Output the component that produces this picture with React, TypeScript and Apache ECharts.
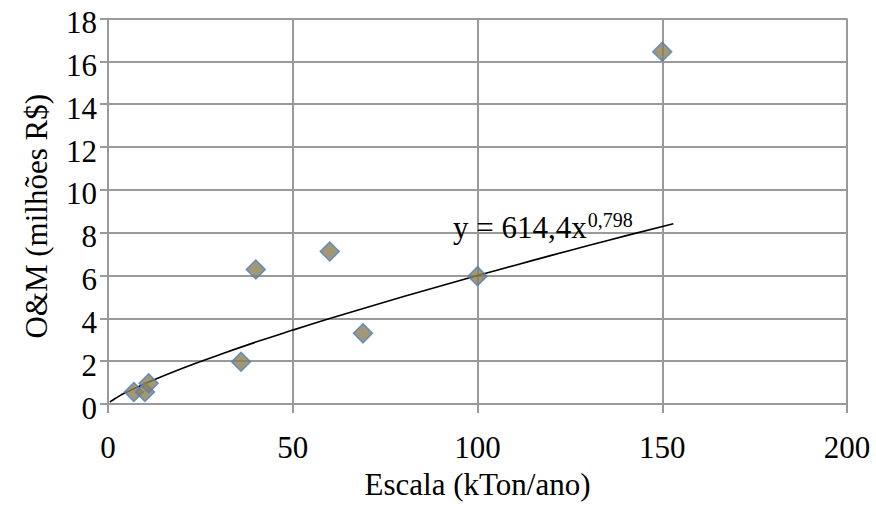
import React, { useEffect, useRef } from "react";
import * as echarts from "echarts";

const scaleX: number[] = [7, 10, 11, 36, 40, 60, 69, 100, 150];
const omY: number[] = [0.56, 0.56, 0.97, 1.97, 6.28, 7.12, 3.3, 5.97, 16.45];

const trendX: number[] = [0.5, 1, 3, 5, 10, 20, 30, 40, 50, 60, 70, 80, 90, 100, 110, 120, 130, 140, 153];
const trendY: number[] = [0.09, 0.15, 0.37, 0.55, 0.95, 1.66, 2.29, 2.89, 3.45, 3.99, 4.51, 5.02, 5.51, 6.0, 6.47, 6.94, 7.4, 7.85, 8.42];

const xTickValues: number[] = [0, 50, 100, 150, 200];
const yTickValues: number[] = [0, 2, 4, 6, 8, 10, 12, 14, 16, 18];

const xTitle = "Escala (kTon/ano)";
const yTitle = "O&M (milhões R$)";
const eqMain = "y = 614,4x";
const eqExp = "0,798";

const FONT = "Liberation Serif";
const FS = 31;

export default function App() {
  const ref = useRef<HTMLDivElement>(null);
  useEffect(() => {
    document.body.style.margin = "0";
    const chart = echarts.init(ref.current!, undefined, { renderer: "svg" });
    const gridColor = "#9a9a9a";
    const gridTop = 18.5;
    const gridBottom = 102;
    const gridLeft = 108;
    const gridRight = 29;
    chart.setOption({
      animation: false,
      backgroundColor: "#ffffff",
      grid: { left: gridLeft, right: gridRight, top: gridTop, bottom: gridBottom, containLabel: false },
      xAxis: {
        type: "value",
        min: xTickValues[0],
        max: xTickValues[xTickValues.length - 1],
        interval: xTickValues[1] - xTickValues[0],
        axisLine: { show: true, lineStyle: { color: gridColor, width: 2 } },
        axisTick: { show: true, length: 9, lineStyle: { color: gridColor, width: 2 } },
        axisLabel: { show: false },
        splitLine: { show: true, lineStyle: { color: gridColor, width: 2 } },
      },
      yAxis: {
        type: "value",
        min: yTickValues[0],
        max: yTickValues[yTickValues.length - 1],
        interval: yTickValues[1] - yTickValues[0],
        axisLine: { show: true, lineStyle: { color: gridColor, width: 2 } },
        axisTick: { show: true, length: 8, lineStyle: { color: gridColor, width: 2 } },
        axisLabel: { show: false },
        splitLine: { show: true, lineStyle: { color: gridColor, width: 2 } },
      },
      series: [
        {
          type: "line",
          data: trendX.map((x, i) => [x, trendY[i]]),
          showSymbol: false,
          smooth: true,
          lineStyle: { color: "#000", width: 1.6 },
          silent: true,
          z: 3,
        },
        {
          type: "scatter",
          data: scaleX.map((x, i) => [x, omY[i]]),
          symbol: "diamond",
          symbolSize: [19, 19],
          itemStyle: { color: "#8c7e52", borderColor: "#4a7fc8", borderWidth: 1.5 },
          z: 4,
        },
      ],
    });

    const canvas = document.createElement("canvas");
    const ctx = canvas.getContext("2d")!;
    ctx.font = `${FS}px ${FONT}`;
    const measure = (t: string) => ctx.measureText(t).width;

    const rt = (text: string, left: number, top: number, rotation = 0) => ({
      type: "text",
      left,
      top,
      rotation,
      z: 10,
      silent: true,
      style: {
        text: `{a|${text}}`,
        rich: {
          a: { fontFamily: FONT, fontSize: FS, fill: "#000", verticalAlign: "bottom" },
        },
      },
    });

    const els: any[] = [];
    const half = FS / 2;
    xTickValues.forEach((v) => {
      const p = chart.convertToPixel({ gridIndex: 0 }, [v, 0]) as number[];
      const s = String(v);
      els.push(rt(s, p[0] - measure(s) / 2, p[1] + 43 - half));
    });
    yTickValues.forEach((v) => {
      const p = chart.convertToPixel({ gridIndex: 0 }, [0, v]) as number[];
      const s = String(v);
      els.push(rt(s, p[0] - 11 - measure(s), p[1] + 4 - half));
    });
    const w = 876;
    const h = 506;
    const cx = (gridLeft + (w - gridRight)) / 2;
    els.push(rt(xTitle, cx - measure(xTitle) / 2, 484 - half));
    const cy = (gridTop + (h - gridBottom)) / 2 + 5;
    els.push(rt(yTitle, 36 - half, cy - measure(yTitle) / 2, Math.PI / 2));
    els.push({
      type: "text",
      left: 453,
      top: 210,
      z: 10,
      style: {
        text: `{a|${eqMain}}{b|${eqExp}}`,
        rich: {
          a: { fontFamily: FONT, fontSize: FS, fill: "#000", verticalAlign: "bottom" },
          b: { fontFamily: FONT, fontSize: 20, fill: "#000", padding: [0, 0, 13, 1], verticalAlign: "bottom" },
        },
      },
    });
    chart.setOption({ graphic: els });
    return () => chart.dispose();
  }, []);
  return <div ref={ref} style={{ position: "absolute", left: 0, top: 0, width: 876, height: 506 }} />;
}
